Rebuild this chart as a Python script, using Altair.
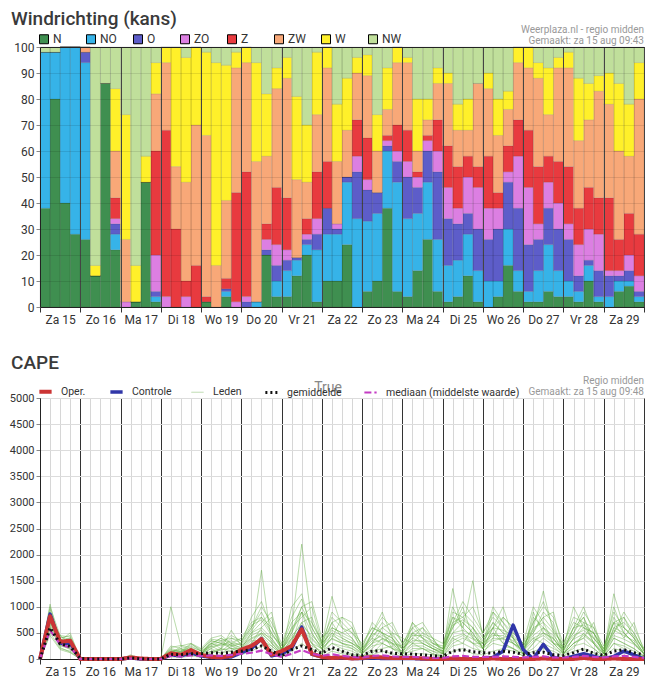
import altair as alt
import pandas as pd

# ---------------- shared ----------------
DAYS = ["Za 15", "Zo 16", "Ma 17", "Di 18", "Wo 19", "Do 20", "Vr 21", "Za 22",
        "Zo 23", "Ma 24", "Di 25", "Wo 26", "Do 27", "Vr 28", "Za 29"]
STEP = 6  # hours between forecast steps

# ---------------- wind direction probabilities (%), 4 per day ----------------
DIRECTIONS = ["N", "NO", "O", "ZO", "Z", "ZW", "W", "NW"]
DIR_COLORS = ["#3f8f50", "#36b3e8", "#5d5dc9", "#dc7fe2", "#e83a3f", "#f8a878", "#fff02a", "#c0df9b"]

N  = [38,80,40,28, 26,12,86,22, 0,2,48,2, 0,0,0,0, 2,0,4,0, 0,0,20,4, 4,12,20,2, 10,10,24,0,
      6,10,38,6, 4,14,26,6, 2,4,12,2, 0,4,16,6, 2,2,6,4, 4,2,10,2, 0,6,8,2]
NO = [60,18,60,72, 68,0,0,6, 0,0,0,2, 0,0,0,0, 0,0,2,0, 0,2,0,6, 10,6,4,20, 18,18,24,34,
      27,26,22,42, 30,22,22,20, 14,14,16,12, 10,6,14,8, 4,12,18,10, 6,4,6,2, 4,4,2,2]
O  = [0,0,0,0, 4,0,0,4, 0,0,0,2, 0,0,0,0, 0,0,1,0, 2,0,2,6, 4,1,2,6, 10,2,2,18,
      12,8,2,8, 16,10,12,26, 18,14,8,16, 16,20,18,24, 18,12,14,16, 16,6,2,10, 8,2,4,2]
ZO = [0,0,0,0, 0,0,0,2, 2,0,0,14, 4,0,4,0, 0,0,0,2, 2,0,4,8, 4,0,2,6, 0,2,0,6,
      4,0,2,4, 6,4,4,8, 12,6,14,16, 12,8,4,20, 22,6,10,10, 6,12,12,14, 2,2,6,6]
Z  = [0,0,0,0, 0,0,0,8, 0,0,0,40, 64,30,6,16, 2,0,4,42, 48,0,6,22, 20,0,6,18, 18,0,0,14,
      16,0,2,10, 12,2,2,12, 16,16,8,8, 20,6,10,14, 22,22,10,16, 22,14,16,14, 28,12,16,16]
ZW = [0,0,0,0, 2,0,0,18, 24,0,0,22, 26,24,38,54, 62,16,30,48, 42,54,26,38, 46,30,14,22, 36,24,18,18,
      24,16,10,24, 26,8,6,14, 24,14,10,32, 26,22,14,22, 24,34,16,36, 38,26,26,41, 36,34,22,52]
W  = [0,0,0,0, 0,4,0,24, 48,14,10,12, 6,46,48,30, 32,78,52,6, 6,38,24,8, 8,32,22,24, 8,22,20,6,
      8,14,16,6, 2,20,8,6, 4,10,12,0, 6,14,7,6, 8,6,18,4, 6,24,14,6, 12,26,20,14]
NW = [2,2,0,0, 0,84,14,16, 26,84,42,6, 0,0,4,0, 2,6,7,2, 0,6,18,8, 4,19,30,2, 0,22,12,4,
      3,26,8,0, 4,20,20,8, 10,22,20,14, 10,20,17,0, 0,6,8,4, 2,12,14,11, 10,14,22,6]
WIND = {"N": N, "NO": NO, "O": O, "ZO": ZO, "Z": Z, "ZW": ZW, "W": W, "NW": NW}

# ---------------- CAPE (J/kg), every 6 h ----------------
OPER = [0,820,330,350, 0,0,0,0, 0,30,10,0, 0,110,80,170, 80,40,30,60, 180,250,380,80,
        150,250,570,100, 40,20,30,10, 20,40,30,20, 20,20,10,0, 0,10,0,0, 0,10,0,0,
        0,0,10,0, 0,0,20,0, 0,10,0,0, 0]
CONTROLE = [0,860,300,300, 0,0,0,0, 0,20,0,0, 0,80,60,120, 60,30,20,40, 120,200,390,60,
            100,200,610,90, 40,20,20,10, 10,20,10,10, 10,10,0,0, 0,0,0,0, 0,30,150,650,
            180,0,280,30, 0,50,100,50, 0,50,150,80, 0]
GEMIDDELDE = [0,600,290,240, 10,0,0,0, 0,20,5,0, 0,90,80,100, 100,120,110,130, 150,180,250,150,
              60,180,250,180, 110,220,150,80, 70,150,160,110, 100,95,80,60, 50,150,180,140,
              120,110,150,130, 90,120,130,80, 70,120,190,110, 70,150,180,120, 80]
MEDIAAN = [0,550,280,220, 0,0,0,0, 0,10,0,0, 0,60,50,70, 60,70,60,80, 100,120,160,90,
           40,100,170,100, 60,90,60,40, 30,60,70,50, 40,40,30,20, 20,50,60,40,
           40,40,50,40, 30,40,50,30, 30,40,60,40, 30,50,60,40, 20]
LEDEN = [
    [0,900,300,250, 0,0,0,0, 0,40,0,0, 0,150,100,200, 100,250,150,300, 200,400,1700,300, 100,400,600,300, 100,500,300,200, 50,200,400,300, 100,300,200,100, 50,400,300,600, 200,500,300,200, 50,300,500,400, 100,200,500,300, 50,400,300,200, 50],
    [0,750,400,450, 20,0,0,0, 0,80,10,0, 10,1000,250,300, 150,300,400,250, 300,800,1100,600, 200,600,2200,700, 300,1200,600,400, 100,300,500,200, 150,500,300,200, 100,1350,500,300, 300,700,500,300, 100,600,1300,500, 100,400,700,300, 50,600,500,300, 100],
    [0,1050,250,200, 0,0,0,0, 0,20,0,0, 0,80,150,100, 50,150,200,550, 250,500,700,900, 150,300,900,300, 200,400,800,700, 200,500,900,400, 100,700,400,250, 150,600,1000,400, 200,900,600,400, 200,500,800,900, 150,600,1000,500, 100,1250,600,400, 200],
    [0,600,350,500, 0,0,0,0, 0,0,0,0, 0,120,200,150, 80,350,300,200, 150,300,600,400, 100,1000,1250,500, 200,700,400,300, 150,400,300,500, 200,400,600,300, 200,800,600,1500, 400,600,300,200, 100,300,600,300, 100,300,400,700, 100,500,800,400, 100],
    [0,500,200,150, 0,0,0,0, 0,50,0,0, 0,200,150,300, 200,400,450,300, 400,700,800,500, 200,500,1000,1100, 400,600,500,600, 100,300,600,700, 300,600,400,200, 100,900,800,600, 300,1000,700,500, 300,1000,700,300, 200,500,900,600, 150,700,400,700, 150],
    [0,800,450,300, 0,0,0,0, 0,0,0,0, 0,60,100,80, 60,100,200,150, 100,200,400,200, 50,300,500,200, 100,300,200,150, 50,100,300,200, 50,200,200,100, 50,300,400,300, 100,400,800,600, 200,400,300,200, 100,300,400,200, 50,300,200,100, 50],
    [0,650,300,350, 0,0,0,0, 0,30,0,0, 0,100,80,150, 100,200,100,250, 150,300,500,300, 100,200,700,400, 200,400,300,250, 100,500,400,300, 200,400,300,200, 150,500,700,500, 200,600,1000,400, 100,800,600,400, 150,600,800,300, 100,800,500,300, 100],
    [0,950,400,200, 0,0,0,0, 0,0,0,0, 0,250,200,100, 100,300,200,400, 300,600,1000,700, 300,800,1150,600, 250,900,700,500, 200,700,500,400, 100,500,600,400, 100,700,1100,800, 500,800,600,300, 200,700,1100,600, 200,1000,600,400, 200,900,600,400, 100],
    [0,700,250,300, 30,0,0,0, 0,60,20,0, 20,180,120,250, 150,250,350,200, 200,500,600,800, 150,600,800,1000, 300,500,400,300, 200,400,700,500, 400,300,500,300, 200,1000,600,400, 300,500,400,500, 300,500,900,700, 100,400,600,500, 100,600,700,500, 150],
    [0,850,350,400, 0,0,0,0, 0,0,0,0, 0,90,150,200, 120,300,250,350, 250,400,500,400, 150,500,900,500, 200,600,500,400, 150,500,800,600, 300,500,400,300, 250,600,900,700, 400,700,500,400, 100,900,500,300, 250,500,800,400, 150,1000,500,300, 100],
    [0,550,300,250, 0,0,0,0, 0,40,0,0, 0,140,180,120, 80,200,300,450, 350,600,900,500, 200,400,700,800, 300,700,800,600, 250,600,500,300, 250,700,500,400, 300,800,700,500, 200,600,800,600, 250,600,700,500, 300,700,600,500, 200,500,900,600, 200],
    [0,780,280,180, 0,0,0,0, 0,0,0,0, 0,70,60,90, 50,120,180,200, 120,250,450,250, 80,250,500,300, 100,200,150,100, 50,150,200,250, 100,150,200,150, 50,250,300,200, 150,300,250,200, 100,200,400,250, 50,250,300,200, 50,300,250,150, 50],
    [0,1000,450,420, 0,0,0,0, 0,0,0,0, 0,110,240,180, 90,280,400,300, 280,550,800,600, 250,700,900,700, 350,800,600,500, 300,600,500,400, 200,600,700,400, 150,700,800,1000, 500,900,700,400, 300,700,1000,800, 300,800,700,600, 250,700,800,500, 150],
    [0,620,220,130, 0,0,0,0, 0,20,0,0, 0,60,90,100, 70,150,120,150, 150,350,350,250, 100,350,450,250, 150,300,250,200, 100,250,300,200, 100,250,250,150, 100,350,450,300, 200,350,400,300, 150,350,450,300, 100,300,450,300, 100,400,300,200, 60],
    [0,880,380,330, 0,0,0,0, 0,0,0,0, 0,170,130,280, 180,350,300,280, 220,450,550,350, 180,450,650,450, 250,450,350,300, 150,350,450,350, 200,350,350,250, 150,500,550,450, 300,450,450,350, 200,450,600,450, 200,450,550,400, 150,550,450,350, 120],
    [0,720,330,280, 0,0,0,0, 0,0,0,0, 0,130,110,170, 110,230,280,260, 180,380,480,320, 140,380,560,380, 180,380,300,250, 120,300,380,280, 150,300,300,200, 120,420,480,380, 250,400,380,300, 170,400,500,380, 170,380,480,330, 120,450,380,280, 90],
    [0,450,180,120, 0,0,0,0, 0,0,0,0, 0,40,30,60, 30,80,60,100, 80,150,250,150, 50,150,300,150, 50,150,100,80, 30,80,150,100, 50,100,100,80, 30,150,200,100, 80,150,200,150, 60,150,200,150, 50,150,200,120, 40,200,150,100, 30],
    [0,680,420,380, 0,0,0,0, 0,50,0,0, 0,220,260,220, 160,380,350,400, 350,650,750,450, 280,550,1000,600, 280,550,450,350, 180,450,600,450, 250,450,450,350, 200,650,750,600, 350,600,550,450, 250,550,800,550, 250,600,650,500, 200,700,600,450, 180],
]

SERIES = ["Oper.", "Controle", "Leden", "gemiddelde", "mediaan (middelste waarde)"]
SER_COLORS = ["#cc3535", "#3036a8", "#5daa3c", "#111111", "#c43cc4"]
SER_WIDTHS = [4, 3.5, 1, 3, 2.2]
SER_DASH = [[1, 0], [1, 0], [1, 0], [2, 3], [7, 3]]
SER_OPACITY = [1, 1, 0.45, 1, 1]

FONT = "Roboto"

# ---------------- build tables ----------------
wind_rows = []
for k, d in enumerate(DIRECTIONS):
    for i, v in enumerate(WIND[d]):
        wind_rows.append({"h0": i * STEP, "h1": (i + 1) * STEP, "dir": d, "ord": k, "kans": v})
wind_df = pd.DataFrame(wind_rows)

cape_rows = []
for name, vals in [("Oper.", OPER), ("Controle", CONTROLE),
                   ("gemiddelde", GEMIDDELDE), ("mediaan (middelste waarde)", MEDIAAN)]:
    for i, v in enumerate(vals):
        cape_rows.append({"h": i * STEP, "cape": v, "serie": name, "lid": name})
for m, vals in enumerate(LEDEN):
    for i, v in enumerate(vals):
        cape_rows.append({"h": i * STEP, "cape": v, "serie": "Leden", "lid": f"lid{m}"})
cape_df = pd.DataFrame(cape_rows)

TOTAL_H = len(DAYS) * 24
x_values = list(range(0, TOTAL_H + 1, STEP))
day_arr = "[" + ",".join(f"'{d}'" for d in DAYS) + "]"
label_expr = f"datum.value % 24 == 12 ? {day_arr}[floor(datum.value / 24)] : ''"
is_day = "datum.value % 24 == 0"


def x_axis(minor_grid, major_grid, z):
    return alt.Axis(
        values=x_values, labelExpr=label_expr, title=None,
        labelOverlap=False, labelBound=False, labelFlush=False,
        labelFont=FONT, labelFontSize=12, labelColor="#333", labelPadding=2,
        tickSize=5, tickColor={"condition": {"test": is_day, "value": "#333"}, "value": "rgba(0,0,0,0)"},
        grid=True, gridColor={"condition": {"test": is_day, "value": major_grid}, "value": minor_grid},
        domainColor="#222", zindex=z,
    )


def text_layer(txt, x, y, size, color, align="left", baseline="middle", weight="normal"):
    return alt.Chart(pd.DataFrame({"t": [txt]})).mark_text(
        align=align, baseline=baseline, fontSize=size, font=FONT, color=color, fontWeight=weight
    ).encode(text="t:N", x=alt.value(x), y=alt.value(y))


W_PLOT = 604

# ---------------- top: Windrichting ----------------
bars = alt.Chart(wind_df).transform_stack(
    stack="kans", groupby=["h0"], as_=["y0", "y1"], sort=[alt.SortField("ord", order="ascending")]
).mark_rect(stroke="rgba(0,0,0,0.18)", strokeWidth=0.5).encode(
    x=alt.X("h0:Q", scale=alt.Scale(domain=[0, TOTAL_H], nice=False, zero=False),
            axis=x_axis("rgba(0,0,0,0.08)", "#444", 1)),
    x2="h1:Q",
    y=alt.Y("y0:Q", scale=alt.Scale(domain=[0, 100], nice=False),
            axis=alt.Axis(values=list(range(0, 101, 10)), title=None, minExtent=31, maxExtent=31,
                          tickSize=4, labelPadding=2, labelFont=FONT, labelFontSize=12, labelColor="#333",
                          gridColor={"condition": {"test": "datum.value == 100", "value": "#222"},
                                     "value": "rgba(0,0,0,0.1)"},
                          domainColor="#222", zindex=1)),
    y2="y1:Q",
    color=alt.Color("dir:N", scale=alt.Scale(domain=DIRECTIONS, range=DIR_COLORS),
                    legend=alt.Legend(title=None, orient="none", legendX=-2, legendY=-14,
                                      direction="horizontal", columns=8, gridAlign="all",
                                      columnPadding=11, symbolType="square", symbolSize=81,
                                      symbolStrokeColor="#000", symbolStrokeWidth=1,
                                      labelFont=FONT, labelFontSize=12, labelColor="#333",
                                      labelOffset=3, padding=0)),
)

top = alt.layer(
    bars,
    text_layer("Windrichting (kans)", -29, -37, 19, "#3a3a3a", baseline="top", weight=500),
    text_layer("Weerplaza.nl - regio midden", W_PLOT, -17.5, 10, "#999", align="right"),
    text_layer("Gemaakt: za 15 aug 09:43", W_PLOT, -6.5, 10, "#999", align="right"),
).properties(width=W_PLOT, height=260)

# ---------------- bottom: CAPE ----------------
enc_common = dict(
    x=alt.X("h:Q", scale=alt.Scale(domain=[0, TOTAL_H], nice=False, zero=False),
            axis=x_axis("#d6d6d6", "#333", 0)),
    y=alt.Y("cape:Q", scale=alt.Scale(domain=[0, 5000], nice=False),
            axis=alt.Axis(values=list(range(0, 5001, 500)), format="d", title=None,
                          minExtent=31, maxExtent=31,
                          tickSize=4, labelPadding=2, labelFont=FONT, labelFontSize=11, labelColor="#333",
                          gridColor="#dcdcdc", domainColor="#222")),
    color=alt.Color("serie:N", scale=alt.Scale(domain=SERIES, range=SER_COLORS),
                    legend=alt.Legend(title=None, orient="none", legendX=-3, legendY=-15,
                                      direction="horizontal", columns=5, columnPadding=17,
                                      symbolType="stroke", symbolSize=150,
                                      labelFont=FONT, labelFontSize=10.5, labelColor="#333",
                                      labelOffset=7, padding=0)),
    strokeWidth=alt.StrokeWidth("serie:N", scale=alt.Scale(type="ordinal", domain=SERIES, range=SER_WIDTHS)),
    strokeDash=alt.StrokeDash("serie:N", scale=alt.Scale(domain=SERIES, range=SER_DASH)),
    opacity=alt.Opacity("serie:N", scale=alt.Scale(type="ordinal", domain=SERIES, range=SER_OPACITY)),
    detail="lid:N",
)


def cape_layer(name):
    return alt.Chart(cape_df).transform_filter(
        alt.datum.serie == name
    ).mark_line(strokeJoin="round").encode(**enc_common)


bottom = alt.layer(
    cape_layer("Leden"),
    cape_layer("Controle"),
    cape_layer("Oper."),
    cape_layer("mediaan (middelste waarde)"),
    cape_layer("gemiddelde"),
    text_layer("CAPE", -29, -44, 19, "#3a3a3a", baseline="top", weight=500),
    text_layer("True", 288, -10, 14, "#888", align="center"),
    text_layer("Regio midden", W_PLOT, -17.5, 10, "#999", align="right"),
    text_layer("Gemaakt: za 15 aug 09:48", W_PLOT, -6.5, 10, "#999", align="right"),
).properties(width=W_PLOT, height=261)

chart = alt.vconcat(top, bottom, spacing=27).resolve_scale(
    color="independent", strokeWidth="independent", strokeDash="independent", opacity="independent"
).resolve_legend(
    color="independent", strokeWidth="independent", strokeDash="independent", opacity="independent"
).properties(
    padding={"top": 1, "left": 0, "right": 0, "bottom": 0}, background="white"
).configure_view(stroke="#222", strokeWidth=1)

chart.save("out.html", embed_options={"renderer": "svg", "actions": False})
